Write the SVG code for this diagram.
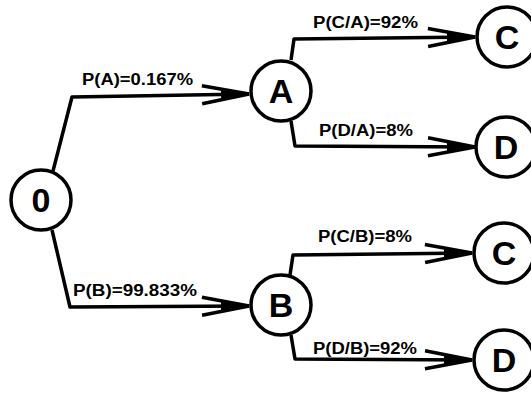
<svg xmlns="http://www.w3.org/2000/svg" width="531" height="393" viewBox="0 0 531 393">
<style>
  .node circle { fill: #fff; stroke: #000; stroke-width: 3.5; }
  .node text { font-family: "Liberation Sans", Arial, sans-serif; font-weight: bold; font-size: 34px; text-anchor: middle; fill: #000; }
  .conn path { fill: none; stroke: #000; stroke-width: 3.5; stroke-linejoin: round; marker-end: url(#arr); }
  .lbl { font-family: "Liberation Sans", Arial, sans-serif; font-weight: bold; font-size: 16px; fill: #000; }
</style>
<defs>
  <marker id="arr" markerUnits="userSpaceOnUse" viewBox="-50 -15 52 30" refX="0" refY="0" markerWidth="52" markerHeight="30" orient="auto" overflow="visible">
    <path d="M-47,-9 L0,0 L-47,9" fill="none" stroke="#000" stroke-width="3.5" stroke-linejoin="miter"/>
    <polygon points="-28,-6 0,0 -28,6" fill="#000"/>
  </marker>
</defs>
<rect width="531" height="393" fill="#fff"/>
<g id="connectors" class="conn">
  <path d="M53,171 L72,97 L249,94"/>
  <path d="M52,230 L70,307 L249,306"/>
  <path d="M291,60 L294,39 L475,37"/>
  <path d="M291,121 L295,146 L475,147"/>
  <path d="M290,275 L293,255 L472,253"/>
  <path d="M291,335 L295,359 L472,360"/>
</g>
<g id="labels">
  <text class="lbl" x="82" y="85" textLength="111" lengthAdjust="spacingAndGlyphs">P(A)=0.167%</text>
  <text class="lbl" x="73" y="296" textLength="124" lengthAdjust="spacingAndGlyphs">P(B)=99.833%</text>
  <text class="lbl" x="313" y="28" textLength="105" lengthAdjust="spacingAndGlyphs">P(C/A)=92%</text>
  <text class="lbl" x="319" y="136" textLength="94" lengthAdjust="spacingAndGlyphs">P(D/A)=8%</text>
  <text class="lbl" x="318" y="242" textLength="94" lengthAdjust="spacingAndGlyphs">P(C/B)=8%</text>
  <text class="lbl" x="313" y="354" textLength="104" lengthAdjust="spacingAndGlyphs">P(D/B)=92%</text>
</g>
<g id="node-0" class="node"><circle cx="41" cy="200" r="30"/><text x="41" y="212">0</text></g>
<g id="node-A" class="node"><circle cx="281" cy="91" r="30"/><text x="281" y="103">A</text></g>
<g id="node-B" class="node"><circle cx="281" cy="305" r="30"/><text x="281" y="317">B</text></g>
<g id="node-C1" class="node"><circle cx="507" cy="37" r="30"/><text x="507" y="49">C</text></g>
<g id="node-D1" class="node"><circle cx="506" cy="147" r="30"/><text x="506" y="159">D</text></g>
<g id="node-C2" class="node"><circle cx="504" cy="253" r="30"/><text x="504" y="265">C</text></g>
<g id="node-D2" class="node"><circle cx="504" cy="360" r="30"/><text x="504" y="372">D</text></g>
</svg>
